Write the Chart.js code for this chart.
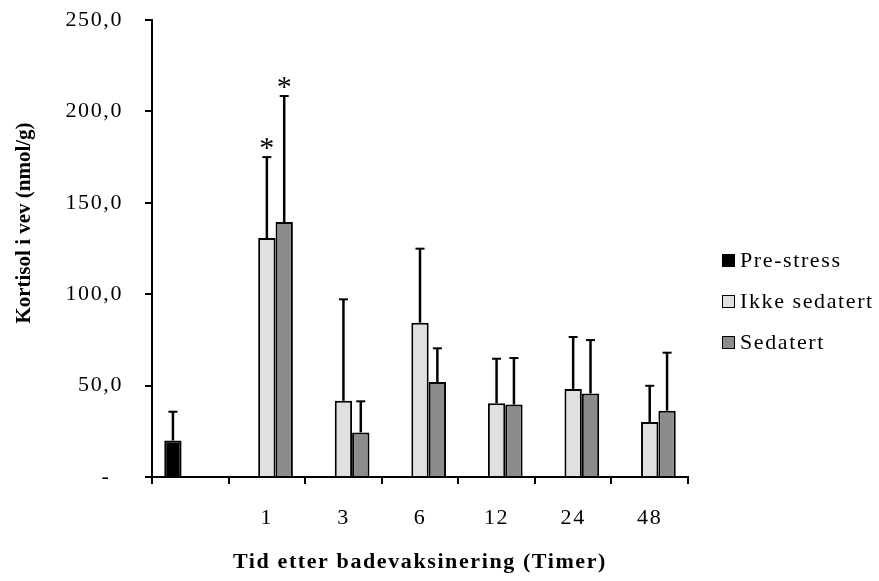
<!DOCTYPE html>
<html>
<head>
<meta charset="utf-8">
<script src="https://cdn.jsdelivr.net/npm/chart.js@4"></script>
<style>
  body { margin: 0; background: #fff; }
  #wrap { position: relative; width: 879px; height: 581px; }
  #legend { position: absolute; left: 722px; top: 247px; font: 22px "Liberation Serif", "Times New Roman", serif; letter-spacing: 1.6px; color: #000; }
  #legend div { display: flex; align-items: center; height: 26px; margin-bottom: 15px; }
  #legend span.box { width: 11px; height: 11px; border: 1.5px solid #000; margin-right: 5px; box-sizing: content-box; }
</style>
</head>
<body>
<div id="wrap">
  <canvas id="c" width="879" height="581"></canvas>
  <div id="legend"></div>
</div>
<script>
const categories = ['', '1', '3', '6', '12', '24', '48'];
const seriesNames = ['Pre-stress', 'Ikke sedatert', 'Sedatert'];
const seriesColors = ['#000000', '#e0e0e0', '#8c8c8c'];

const preStress   = [20.0, null, null, null, null, null, null];
const preStressSd = [15.7, null, null, null, null, null, null];
const ikke        = [null, 130.7, 41.7, 84.4, 40.3, 48.1, 30.1];
const ikkeSd      = [null, 44.3, 55.5, 40.5, 24.4, 28.5, 19.8];
const sed         = [null, 139.5, 24.4, 52.0, 39.6, 45.7, 36.3];
const sedSd       = [null, 68.9, 17.0, 18.4, 25.5, 29.2, 31.7];
// significance marks per series
const ikkeStars   = ['', '*', '', '', '', '', ''];
const sedStars    = ['', '*', '', '', '', '', ''];

const yTicks = [0, 50, 100, 150, 200, 250];
const yTitle = 'Kortisol i vev (nmol/g)';

const serif = '"Liberation Serif", "Times New Roman", serif';

// wide-set lettering for every canvas label
const spacing = {
  id: 'spacing',
  beforeDraw(chart) { chart.ctx.letterSpacing = '1.6px'; }
};

const errorBars = {
  id: 'errorBars',
  afterDatasetsDraw(chart) {
    const { ctx } = chart;
    const y = chart.scales.y;
    ctx.save();
    chart.data.datasets.forEach((ds, i) => {
      const meta = chart.getDatasetMeta(i);
      meta.data.forEach((bar, j) => {
        const v = ds.data[j];
        const sd = ds.sd[j];
        if (v == null || sd == null) return;
        const top = y.getPixelForValue(v + sd);
        const base = y.getPixelForValue(v);
        ctx.strokeStyle = '#000';
        ctx.lineWidth = 2.5;
        ctx.beginPath();
        ctx.moveTo(bar.x, base);
        ctx.lineTo(bar.x, top);
        ctx.stroke();
        ctx.lineWidth = 2;
        ctx.beginPath();
        ctx.moveTo(bar.x - 4.5, top);
        ctx.lineTo(bar.x + 4.5, top);
        ctx.stroke();
        const star = ds.stars && ds.stars[j];
        if (star) {
          ctx.fillStyle = '#000';
          ctx.font = '30px ' + serif;
          ctx.letterSpacing = '0px';
          ctx.textAlign = 'center';
          ctx.textBaseline = 'middle';
          ctx.fillText(star, bar.x, top - 8);
        }
      });
    });
    ctx.restore();
  }
};

// vertical axis title, centred a little above the plot middle
const axisTitle = {
  id: 'axisTitle',
  afterDraw(chart) {
    const { ctx } = chart;
    ctx.save();
    ctx.letterSpacing = '0px';
    ctx.translate(25, 223);
    ctx.rotate(-Math.PI / 2);
    ctx.font = 'bold 21px ' + serif;
    ctx.fillStyle = '#000';
    ctx.textAlign = 'center';
    ctx.textBaseline = 'middle';
    ctx.fillText(yTitle, 0, 0);
    ctx.restore();
  }
};

const values = [preStress, ikke, sed];
const sds = [preStressSd, ikkeSd, sedSd];
const stars = [null, ikkeStars, sedStars];

new Chart(document.getElementById('c'), {
  type: 'bar',
  data: {
    labels: categories,
    datasets: seriesNames.map((name, i) => ({
      label: name,
      data: values[i],
      sd: sds[i],
      stars: stars[i],
      backgroundColor: seriesColors[i],
      borderColor: '#000',
      borderWidth: 2,
      categoryPercentage: 0.68,
      barPercentage: 1.0
    }))
  },
  options: {
    responsive: false,
    animation: false,
    devicePixelRatio: 1,
    layout: { padding: { left: 0, right: 191, top: 20, bottom: 0 } },
    plugins: { legend: { display: false }, tooltip: { enabled: false } },
    scales: {
      x: {
        offset: true,
        grid: { offset: true, drawOnChartArea: false, tickLength: 7, color: '#000', lineWidth: 2 },
        border: { color: '#000', width: 2 },
        ticks: { color: '#000', padding: 21, font: { family: serif, size: 22 } },
        title: {
          display: true,
          text: 'Tid etter badevaksinering (Timer)',
          color: '#000',
          font: { family: serif, size: 22, weight: 'bold' },
          padding: { top: 0, bottom: 5 }
        },
        afterFit(scale) { scale.height = 104; }
      },
      y: {
        min: 0,
        max: 250,
        afterBuildTicks(scale) { scale.ticks = yTicks.map(v => ({ value: v })); },
        grid: { drawOnChartArea: false, tickLength: 7, color: '#000', lineWidth: 2 },
        border: { color: '#000', width: 2 },
        ticks: {
          color: '#000',
          padding: 22,
          font: { family: serif, size: 22 },
          callback: v => v === 0 ? '-\u2002' : v.toFixed(1).replace('.', ',')
        },
        title: { display: false },
        afterFit(scale) {
          scale.width = 152;
          scale.paddingTop = 0;
          scale.paddingBottom = 0;
        }
      }
    }
  },
  plugins: [spacing, errorBars, axisTitle]
});

// legend on the right
const legend = document.getElementById('legend');
seriesNames.forEach((name, i) => {
  const row = document.createElement('div');
  const box = document.createElement('span');
  box.className = 'box';
  box.style.background = seriesColors[i];
  row.appendChild(box);
  row.appendChild(document.createTextNode(name));
  legend.appendChild(row);
});
</script>
</body>
</html>
